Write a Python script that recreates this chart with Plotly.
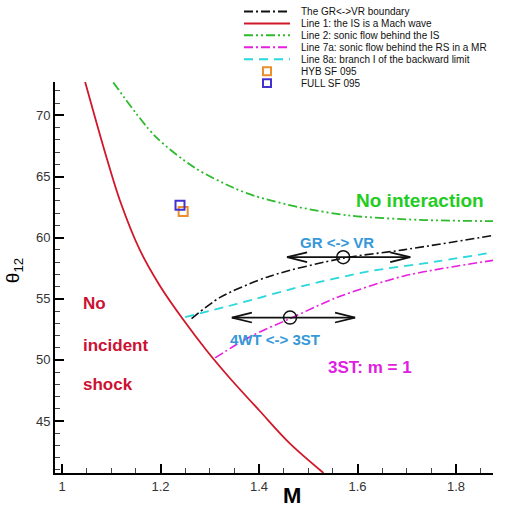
import plotly.graph_objects as go

# ---- data ----
line1_M = [1.047, 1.087, 1.118, 1.158, 1.199, 1.246, 1.294, 1.341, 1.402, 1.463, 1.531]
line1_t = [72.73, 67.03, 63.0, 59.0, 56.05, 53.3, 50.75, 48.5, 45.8, 43.15, 40.75]

line2_M = [1.104, 1.189, 1.270, 1.347, 1.392, 1.480, 1.585, 1.727, 1.875]
line2_t = [72.7, 68.3, 65.7, 64.1, 63.4, 62.5, 61.8, 61.45, 61.35]

grvr_M = [1.263, 1.321, 1.422, 1.571, 1.693, 1.875]
grvr_t = [53.38, 55.11, 56.85, 58.32, 59.0, 60.18]

line7a_M = [1.311, 1.382, 1.463, 1.558, 1.693, 1.883]
line7a_t = [50.17, 51.9, 53.38, 55.1, 56.85, 58.19]

line8a_M = [1.250, 1.355, 1.490, 1.625, 1.761, 1.883]
line8a_t = [53.5, 54.58, 56.05, 57.25, 58.05, 58.85]

hyb_M, hyb_t = [1.246], [62.14]
full_M, full_t = [1.2396], [62.65]

# transition markers: (centre M, centre theta, left tip M, right tip M)
arrow_centres_M = [1.571, 1.463]
arrow_centres_t = [58.4, 53.46]
arrow_left_M = [1.457, 1.345]
arrow_right_M = [1.707, 1.595]

x_ticks = [1, 1.2, 1.4, 1.6, 1.8]
y_ticks = [45, 50, 55, 60, 65, 70]

legend_names = ["The GR<->VR boundary", "Line 1: the IS is a Mach wave",
                "Line 2: sonic flow behind the IS", "Line 7a: sonic flow behind the RS in a MR",
                "Line 8a: branch I of the backward limit", "HYB SF 095", "FULL SF 095"]

# ---- styling ----
C_BLACK = "#111111"
C_RED = "#d0182a"
C_GREEN = "#2dbb2d"
C_MAG = "#e81ee0"
C_CYAN = "#28d8dc"
C_ORANGE = "#ec8e2c"
C_BLUE = "#4432d0"
DASH_DD = "9px,3px,2px,3px"
DASH_DDD = "9px,3px,2px,3px,2px,3px"
DASH_CY = "9px,6px"
FONT = "Liberation Sans, Arial, sans-serif"

W, H = 506, 506
ML, MR, MT, MB = 55, 13, 82, 25
XR = [0.9858, 1.8751]
YR = [40.75, 72.73]
pxM = (W - ML - MR) / (XR[1] - XR[0])
pxT = (H - MT - MB) / (YR[1] - YR[0])

fig = go.Figure()

fig.add_trace(go.Scatter(x=line1_M, y=line1_t, mode="lines",
                         line=dict(color=C_RED, width=1.8, shape="spline", smoothing=0.9)))
fig.add_trace(go.Scatter(x=line2_M, y=line2_t, mode="lines",
                         line=dict(color=C_GREEN, width=1.8, dash=DASH_DDD, shape="spline", smoothing=0.8)))
fig.add_trace(go.Scatter(x=grvr_M, y=grvr_t, mode="lines",
                         line=dict(color=C_BLACK, width=1.6, dash=DASH_DD, shape="spline", smoothing=0.8)))
fig.add_trace(go.Scatter(x=line8a_M, y=line8a_t, mode="lines",
                         line=dict(color=C_CYAN, width=1.8, dash=DASH_CY, shape="spline", smoothing=0.8)))
fig.add_trace(go.Scatter(x=line7a_M, y=line7a_t, mode="lines",
                         line=dict(color=C_MAG, width=1.6, dash=DASH_DD, shape="spline", smoothing=0.8)))
fig.add_trace(go.Scatter(x=hyb_M, y=hyb_t, mode="markers",
                         marker=dict(symbol="square-open", size=9, color=C_ORANGE, line=dict(width=2))))
fig.add_trace(go.Scatter(x=full_M, y=full_t, mode="markers",
                         marker=dict(symbol="square-open", size=9, color=C_BLUE, line=dict(width=2))))

# double arrows with open chevrons
head_len = 20 / pxM
head_h = 5 / pxT
for cm, ct, lm, rm in zip(arrow_centres_M, arrow_centres_t, arrow_left_M, arrow_right_M):
    xs = [lm, rm, None, lm + head_len, lm, lm + head_len, None, rm - head_len, rm, rm - head_len]
    ys = [ct, ct, None, ct + head_h, ct, ct - head_h, None, ct + head_h, ct, ct - head_h]
    fig.add_trace(go.Scatter(x=xs, y=ys, mode="lines", line=dict(color=C_BLACK, width=1.8)))
fig.add_trace(go.Scatter(x=arrow_centres_M, y=arrow_centres_t, mode="markers",
                         marker=dict(symbol="circle-open", size=13, color=C_BLACK, line=dict(width=1.5))))

# ---- annotations ----
ann = []
def txt(x, y, s, color, size, xanchor="center", bold=True):
    ann.append(dict(x=x, y=y, xref="x", yref="y", text=("<b>%s</b>" % s) if bold else s,
                    showarrow=False, xanchor=xanchor, yanchor="middle",
                    font=dict(color=color, size=size, family=FONT)))

txt(1.727, 63.0, "No interaction", "#22cc22", 19)
txt(1.558, 59.6, "GR &lt;-&gt; VR", "#3598d8", 15)
txt(1.432, 51.7, "4WT &lt;-&gt; 3ST", "#3598d8", 15)
txt(1.625, 49.4, "3ST: m = 1", "#e020e0", 17)
txt(1.0386, 54.6, "No", "#cc1133", 17, xanchor="left")
txt(1.0386, 51.2, "incident", "#cc1133", 17, xanchor="left")
txt(1.0386, 48.0, "shock", "#cc1133", 17, xanchor="left")

def paper(px, py):
    return (px - ML) / (W - ML - MR), (H - MB - py) / (H - MT - MB)

# axis titles
ax, ay = paper(292, 504)
ann.append(dict(x=ax, y=ay, xref="paper", yref="paper", text="<b>M</b>", showarrow=False,
                xanchor="center", yanchor="middle", font=dict(size=22, color="#000", family=FONT)))
ax, ay = paper(14, 275)
ann.append(dict(x=ax, y=ay, xref="paper", yref="paper", text="θ<sub>12</sub>", showarrow=False,
                textangle=-90, xanchor="center", yanchor="middle",
                font=dict(size=19, color="#000", family=FONT)))

# ---- manual legend ----
shapes = []
leg_styles = [("line", C_BLACK, DASH_DD), ("line", C_RED, "solid"), ("line", C_GREEN, DASH_DDD),
              ("line", C_MAG, DASH_DD), ("line", C_CYAN, DASH_CY), ("sq", C_ORANGE, None), ("sq", C_BLUE, None)]
for i, (name, (kind, col, dash)) in enumerate(zip(legend_names, leg_styles)):
    py = 10 + 12.2 * i
    if kind == "line":
        x0, y0 = paper(244, py)
        x1, _ = paper(290, py)
        shapes.append(dict(type="line", xref="paper", yref="paper", x0=x0, x1=x1, y0=y0, y1=y0,
                           line=dict(color=col, width=2, dash=dash)))
    else:
        x0, y0 = paper(263, py - 4)
        x1, y1 = paper(271, py + 4)
        shapes.append(dict(type="rect", xref="paper", yref="paper", x0=x0, x1=x1, y0=y0, y1=y1,
                           line=dict(color=col, width=2)))
    tx, ty = paper(299, py)
    ann.append(dict(x=tx, y=ty, xref="paper", yref="paper", text=name, showarrow=False,
                    xanchor="left", yanchor="middle",
                    font=dict(size=10, color="#111", family=FONT)))

axis_common = dict(showgrid=False, zeroline=False, showline=True, linecolor="#000", linewidth=2,
                   ticks="inside", ticklen=9, tickwidth=2, tickcolor="#000",
                   tickfont=dict(size=13, color="#333", family=FONT))

fig.update_layout(
    width=W, height=H, margin=dict(l=ML, r=MR, t=MT, b=MB),
    paper_bgcolor="white", plot_bgcolor="white", showlegend=False,
    xaxis=dict(range=XR, tickvals=x_ticks, ticktext=[str(v) for v in x_ticks],
               minor=dict(dtick=0.05, tick0=1, ticks="inside", ticklen=5, tickcolor="#444", tickwidth=1),
               **axis_common),
    yaxis=dict(range=YR, tickvals=y_ticks,
               minor=dict(dtick=1, tick0=40, ticks="inside", ticklen=5, tickcolor="#444", tickwidth=1),
               **axis_common),
    annotations=ann, shapes=shapes,
)

fig.write_html("out.html", config={"displayModeBar": False},
               post_script="document.body.style.margin='0px';")
